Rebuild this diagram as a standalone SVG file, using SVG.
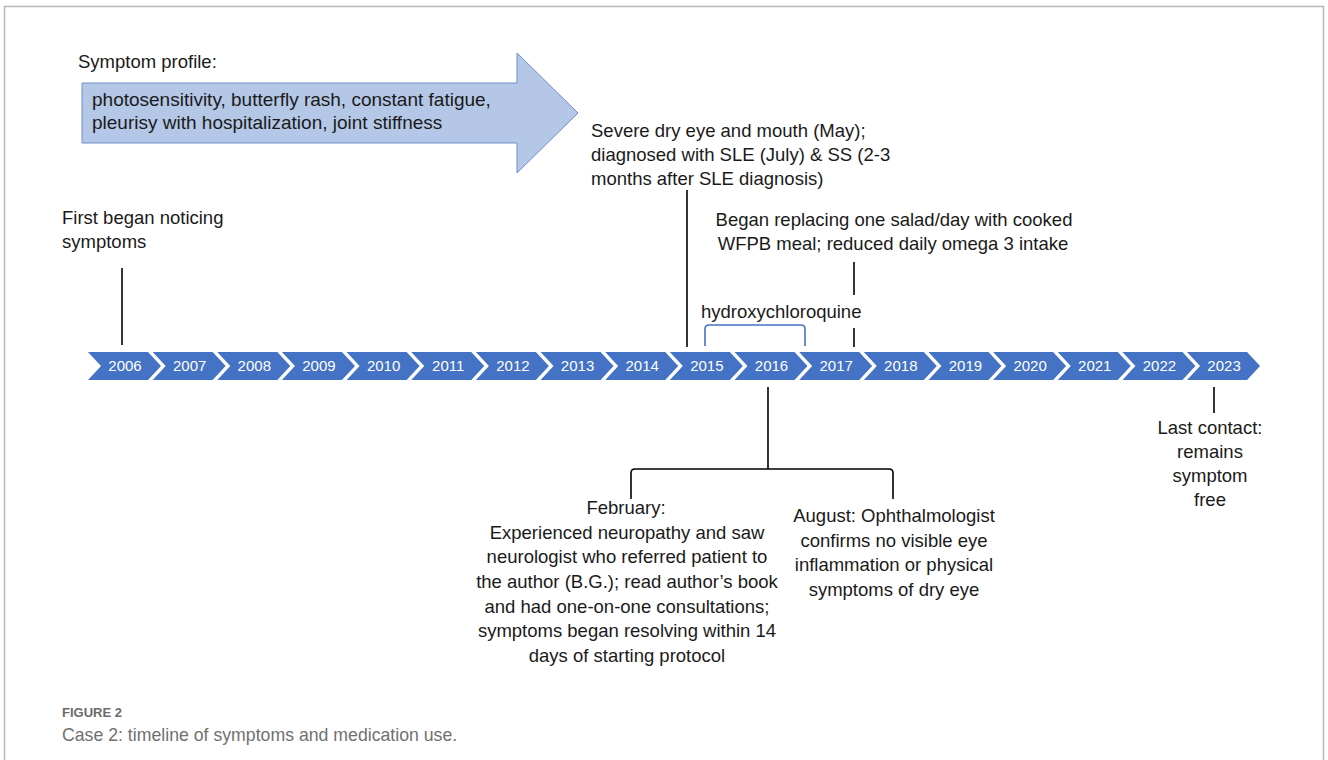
<svg xmlns="http://www.w3.org/2000/svg" width="1328" height="760" viewBox="0 0 1328 760">
<defs>
<style>
.t{font-family:"Liberation Sans",Arial,sans-serif;font-size:18.5px;fill:#1a1a1a}
.a{font-size:19px}
.c{text-anchor:middle}
.yr{font-family:"Liberation Sans",Arial,sans-serif;font-size:15px;fill:#ffffff;text-anchor:middle}
.chev{fill:#4472C4}
.ln{stroke:#000;stroke-width:1.6;fill:none}
.cap1{font-family:"Liberation Sans",Arial,sans-serif;font-size:13px;font-weight:bold;fill:#6b6b6b}
.cap2{font-family:"Liberation Sans",Arial,sans-serif;font-size:17.7px;fill:#707070}
</style>
<polygon id="ch" points="0,352 60,352 73,366 60,380 0,380 13,366"/>
</defs>
<rect x="0" y="0" width="1328" height="760" fill="#ffffff"/>
<rect x="4.5" y="6.5" width="1319" height="780" fill="none" stroke="#b8b8b8" stroke-width="1.5"/>

<g id="symptom-profile">
<text class="t" x="78" y="68">Symptom profile:</text>
<polygon points="82,83 517,83 517,53 578,113 517,173 517,143 82,143" fill="#B4C7E7" stroke="#6F8FC9" stroke-width="1"/>
<text class="t a" x="92" y="106">photosensitivity, butterfly rash, constant fatigue,</text>
<text class="t a" x="92" y="129">pleurisy with hospitalization, joint stiffness</text>
</g>

<g id="timeline">
<use href="#ch" class="chev" x="88"/><text class="yr" x="125" y="371">2006</text>
<use href="#ch" class="chev" x="152.65"/><text class="yr" x="189.65" y="371">2007</text>
<use href="#ch" class="chev" x="217.3"/><text class="yr" x="254.3" y="371">2008</text>
<use href="#ch" class="chev" x="281.95"/><text class="yr" x="318.95" y="371">2009</text>
<use href="#ch" class="chev" x="346.6"/><text class="yr" x="383.6" y="371">2010</text>
<use href="#ch" class="chev" x="411.25"/><text class="yr" x="448.25" y="371">2011</text>
<use href="#ch" class="chev" x="475.9"/><text class="yr" x="512.9" y="371">2012</text>
<use href="#ch" class="chev" x="540.55"/><text class="yr" x="577.55" y="371">2013</text>
<use href="#ch" class="chev" x="605.2"/><text class="yr" x="642.2" y="371">2014</text>
<use href="#ch" class="chev" x="669.85"/><text class="yr" x="706.85" y="371">2015</text>
<use href="#ch" class="chev" x="734.5"/><text class="yr" x="771.5" y="371">2016</text>
<use href="#ch" class="chev" x="799.15"/><text class="yr" x="836.15" y="371">2017</text>
<use href="#ch" class="chev" x="863.8"/><text class="yr" x="900.8" y="371">2018</text>
<use href="#ch" class="chev" x="928.45"/><text class="yr" x="965.45" y="371">2019</text>
<use href="#ch" class="chev" x="993.1"/><text class="yr" x="1030.1" y="371">2020</text>
<use href="#ch" class="chev" x="1057.75"/><text class="yr" x="1094.75" y="371">2021</text>
<use href="#ch" class="chev" x="1122.4"/><text class="yr" x="1159.4" y="371">2022</text>
<use href="#ch" class="chev" x="1187.05"/><text class="yr" x="1224.05" y="371">2023</text>
</g>

<g id="connectors">
<line class="ln" x1="122" y1="268" x2="122" y2="345"/>
<line class="ln" x1="687" y1="190" x2="687" y2="347"/>
<line class="ln" x1="854" y1="262" x2="854" y2="295"/>
<line class="ln" x1="854" y1="328" x2="854" y2="347"/>
<path d="M705,346 V329 Q705,325 709,325 H801 Q805,325 805,329 V346" fill="none" stroke="#4472C4" stroke-width="1.6"/>
<line class="ln" x1="768" y1="387" x2="768" y2="469"/>
<path class="ln" d="M631,499 V473 Q631,469 635,469 H889 Q893,469 893,473 V499"/>
<line class="ln" x1="1214" y1="387" x2="1214" y2="413"/>
</g>

<g id="first-symptoms">
<text class="t" x="62" y="224">First began noticing</text>
<text class="t" x="62" y="248">symptoms</text>
</g>

<g id="diagnosis-2015">
<text class="t" x="591" y="137">Severe dry eye and mouth (May);</text>
<text class="t" x="591" y="161">diagnosed with SLE (July) &amp; SS (2-3</text>
<text class="t" x="591" y="185">months after SLE diagnosis)</text>
</g>

<g id="hydroxychloroquine">
<text class="t" x="701" y="318">hydroxychloroquine</text>
</g>

<g id="diet-2017">
<text class="t c" x="894" y="226">Began replacing one salad/day with cooked</text>
<text class="t c" x="893" y="250">WFPB meal; reduced daily omega 3 intake</text>
</g>

<g id="february-2016">
<text class="t c" x="626" y="514">February:</text>
<text class="t c" x="627" y="539">Experienced neuropathy and saw</text>
<text class="t c" x="627" y="563">neurologist who referred  patient to</text>
<text class="t c" x="627" y="588">the author (B.G.); read author’s book</text>
<text class="t c" x="627" y="613">and had one-on-one consultations;</text>
<text class="t c" x="627" y="637">symptoms began resolving within 14</text>
<text class="t c" x="627" y="662">days of starting protocol</text>
</g>

<g id="august-2016">
<text class="t c" x="894" y="522">August: Ophthalmologist</text>
<text class="t c" x="894" y="547">confirms no visible eye</text>
<text class="t c" x="894" y="571">inflammation or physical</text>
<text class="t c" x="894" y="596">symptoms of dry eye</text>
</g>

<g id="last-contact">
<text class="t c" x="1210" y="434">Last contact:</text>
<text class="t c" x="1210" y="458">remains</text>
<text class="t c" x="1210" y="482">symptom</text>
<text class="t c" x="1210" y="506">free</text>
</g>

<g id="caption">
<text class="cap1" x="62" y="717">FIGURE 2</text>
<text class="cap2" x="62" y="741">Case 2: timeline of symptoms and medication use.</text>
</g>
</svg>
